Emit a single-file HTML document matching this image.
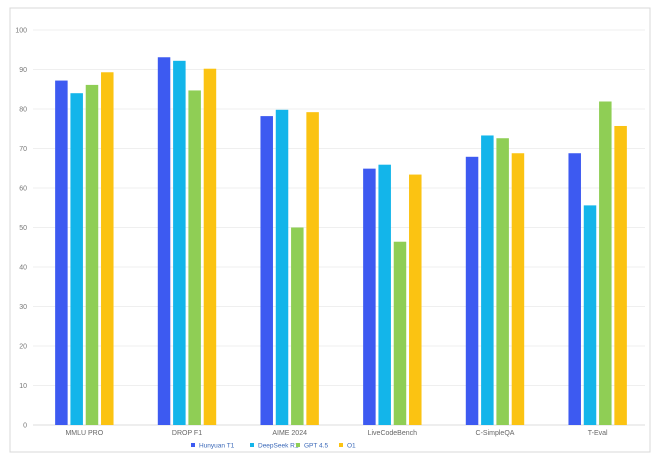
<!DOCTYPE html>
<html><head><meta charset="utf-8"><style>
body{margin:0;background:#fff;font-family:"Liberation Sans",sans-serif}
svg{display:block}
</style></head><body>
<svg id="c" width="660" height="462">
<rect x="10" y="8" width="640" height="444" fill="#fff" stroke="#d8d8d8"/>
<g id="grid"></g><g id="bars"></g><g id="xl"></g><g id="legend"></g>
</svg>
<script>
const categories=["MMLU PRO","DROP F1","AIME 2024","LiveCodeBench","C-SimpleQA","T-Eval"];
const seriesNames=["Hunyuan T1","DeepSeek R1","GPT 4.5","O1"];
const hunyuan=[87.2,93.1,78.2,64.9,67.9,68.8];
const deepseek=[84.0,92.2,79.8,65.9,73.3,55.6];
const gpt45=[86.1,84.7,50.0,46.4,72.6,81.9];
const o1=[89.3,90.2,79.2,63.4,68.8,75.7];
const yTicks=[0,10,20,30,40,50,60,70,80,90,100];
const colors=["#3d5af1","#13b5ea","#8fce55","#fbc312"];
const series=[hunyuan,deepseek,gpt45,o1];
const NS="http://www.w3.org/2000/svg";
const x0=33,x1=649,y0=425,yTop=30;
const y=v=>y0-(y0-yTop)*v/100;
const gw=(x1-x0)/categories.length;
const cx=i=>x0+gw*(i+0.5);
function mk(t,a,p){const e=document.createElementNS(NS,t);for(const k in a)e.setAttribute(k,a[k]);p.appendChild(e);return e;}
const grid=document.getElementById('grid');
yTicks.forEach(v=>{
  const l=mk('line',{x1:x0,x2:x1-4,y1:y(v),y2:y(v),stroke:v===0?'#dcdcdc':'#efefef'},grid);
  
  
  const t=mk('text',{x:27,y:y(v)+2.5,'text-anchor':'end','font-size':7,fill:'#777'},grid);
  t.textContent=v;
  
  
});
const bars=document.getElementById('bars');
const bw=12.5,step=15.3;
categories.forEach((c,i)=>{
  series.forEach((s,j)=>{
    const bx=cx(i)+(j-1.5)*step-bw/2;
    const r=mk('rect',{x:bx,y:y(s[i]),width:bw,height:y0-y(s[i]),fill:colors[j]},bars);
    
    
  });
  const t=mk('text',{x:cx(i),y:435,'text-anchor':'middle','font-size':7,fill:'#666'},document.getElementById('xl'));
  t.textContent=c;
  
  
});
const lg=document.getElementById('legend');
const lx=[191,250,290,325];
const lxs=[0,59,105,148];
seriesNames.forEach((n,j)=>{
  const x=191+lxs[j];
  const r=mk('rect',{x:x,y:443,width:4,height:4,fill:colors[j]},lg);
  
  
  const t=mk('text',{x:x+8,y:447.5,'font-size':6.5,fill:'#3a68b8'},lg);
  t.textContent=n;
  
  
});
</script>
</body></html>
